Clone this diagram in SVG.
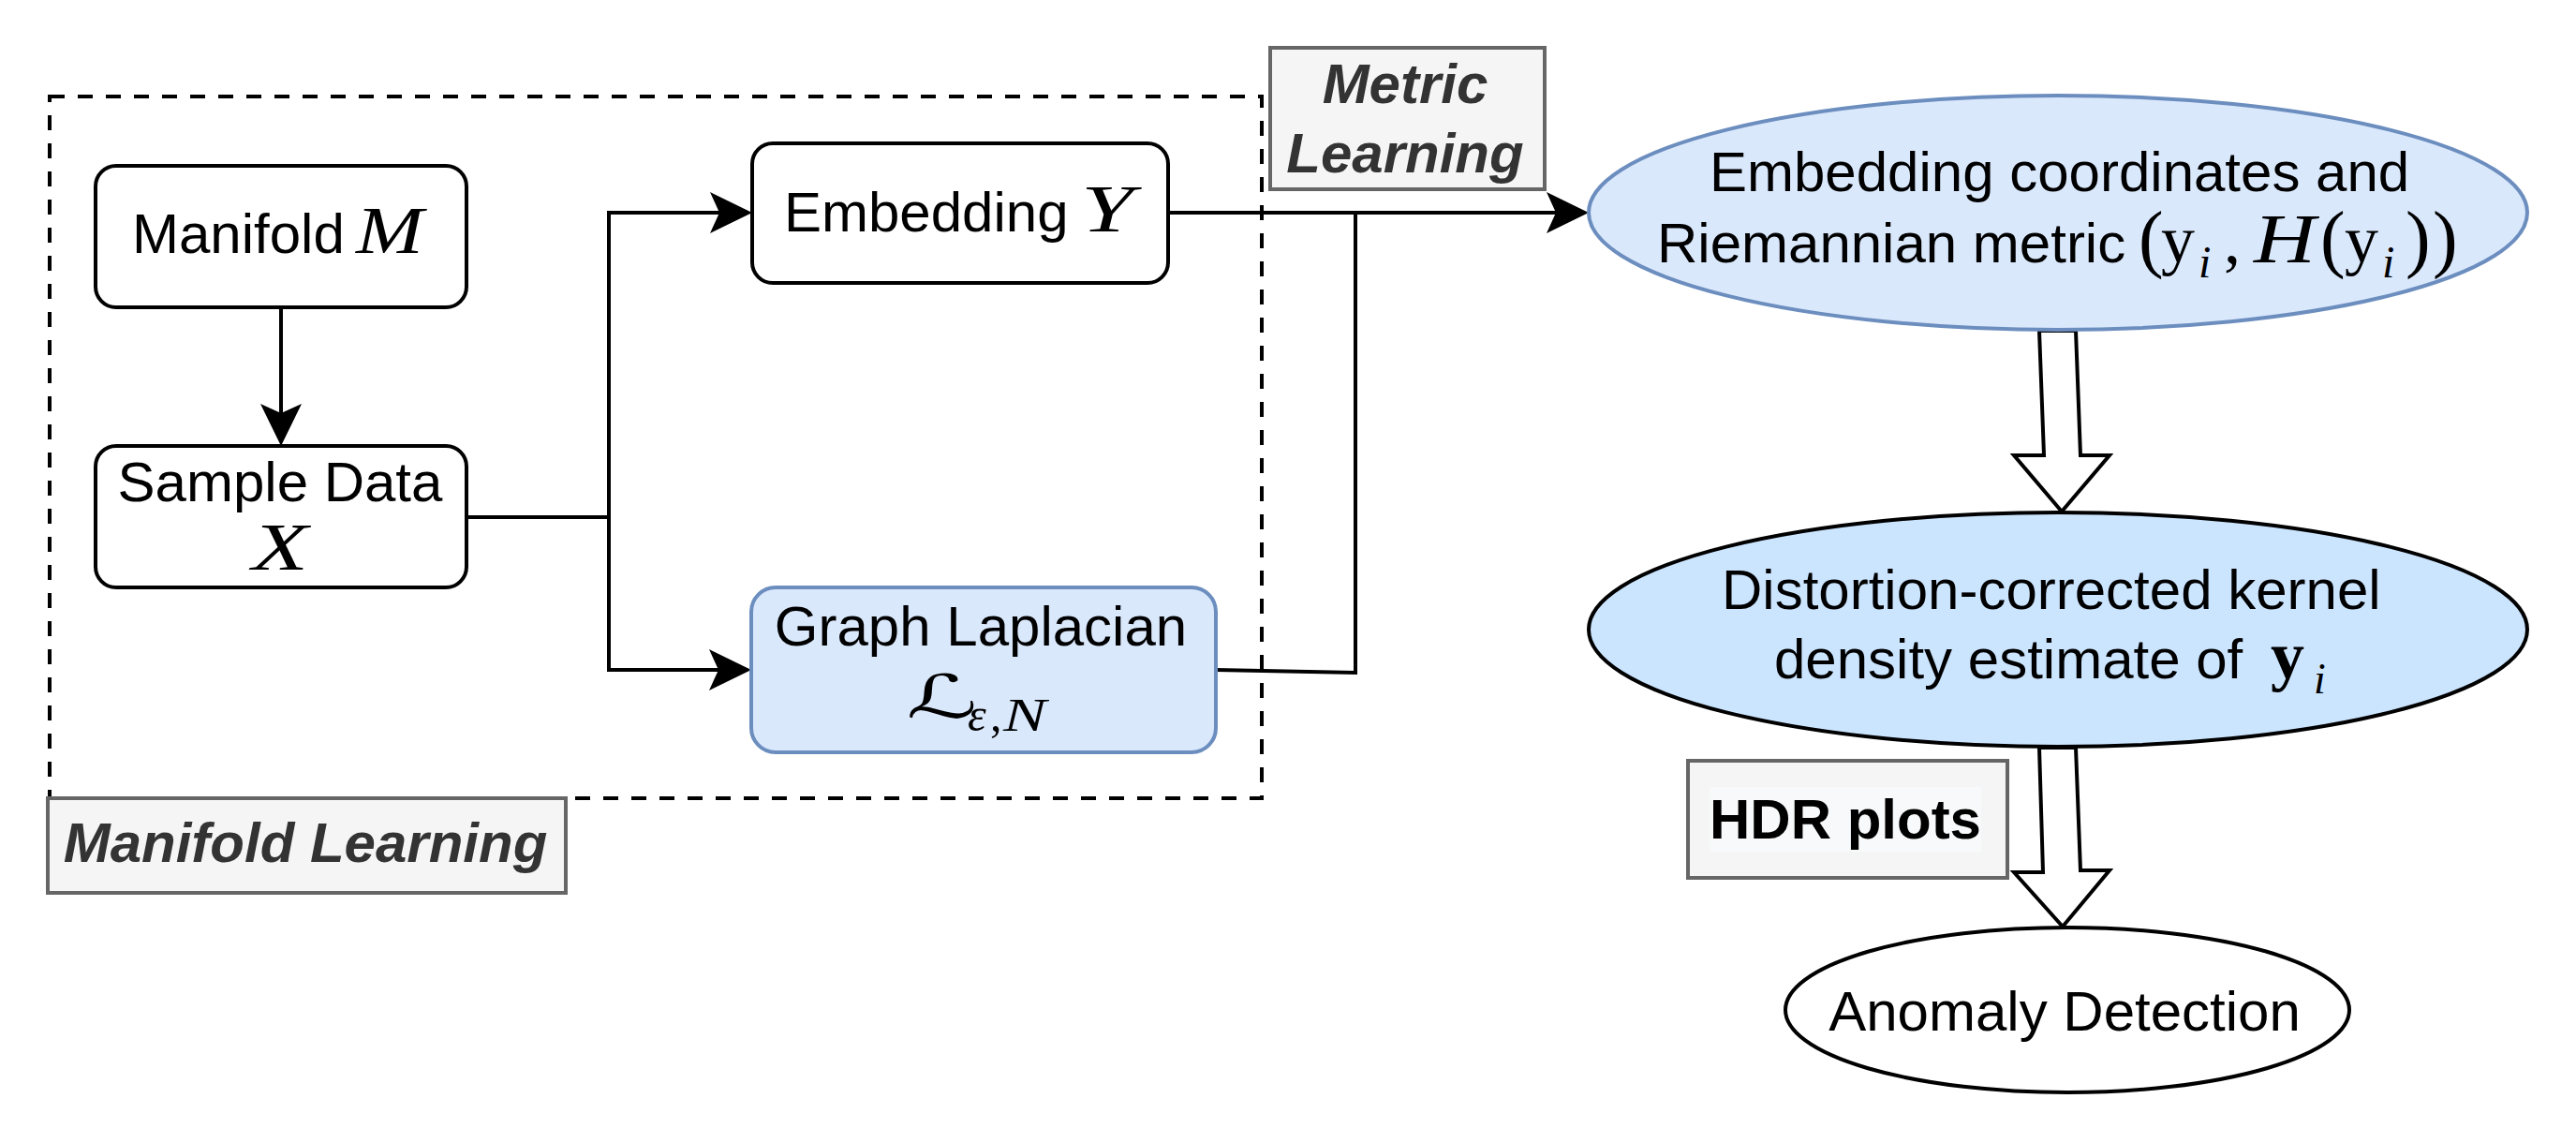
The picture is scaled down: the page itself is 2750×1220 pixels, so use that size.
<svg xmlns="http://www.w3.org/2000/svg" width="2750" height="1220" viewBox="0 0 2750 1220">
<style>
  .lbl { font-family: "Liberation Sans", Arial, Helvetica, sans-serif; font-size: 60px; fill: #000; }
  .tag { font-family: "Liberation Sans", Arial, Helvetica, sans-serif; font-size: 60px; font-weight: bold; font-style: italic; fill: #333333; }
  .hdr { font-family: "Liberation Sans", Arial, Helvetica, sans-serif; font-size: 60px; font-weight: bold; fill: #000; }
  .mi { font-family: "Liberation Serif", "DejaVu Serif", serif; font-style: italic; fill: #000; }
  .mr { font-family: "Liberation Serif", "DejaVu Serif", serif; fill: #000; }
  .box { fill: #ffffff; stroke: #000; stroke-width: 4; }
  .blue { fill: #dae8fc; stroke: #6c8ebf; stroke-width: 4; }
  .tagbox { fill: #f5f5f5; stroke: #666666; stroke-width: 4; }
  .conn { fill: none; stroke: #000; stroke-width: 4; }
  .hollow { fill: #ffffff; stroke: #000; stroke-width: 4; stroke-linejoin: miter; }
</style>
<defs>
  <marker id="arr" markerUnits="userSpaceOnUse" markerWidth="46" markerHeight="46" viewBox="0 0 46 46" refX="10" refY="23" orient="auto">
    <path d="M0,1 L45,23 L0,45 L10,23 Z" fill="#000"/>
  </marker>
</defs>

<!-- container -->
<g id="manifold-learning-container">
  <rect x="53" y="103" width="1294" height="749" fill="none" stroke="#000" stroke-width="4" stroke-dasharray="16 14"/>
</g>

<!-- connectors -->
<g id="connectors">
  <path class="conn" d="M300,328 V441" marker-end="url(#arr)"/>
  <path class="conn" d="M498,552 H650"/>
  <path class="conn" d="M650,227 V715"/>
  <path class="conn" d="M648,227 H768" marker-end="url(#arr)"/>
  <path class="conn" d="M648,715 H767" marker-end="url(#arr)"/>
  <path class="conn" d="M1247,227 H1661" marker-end="url(#arr)"/>
  <path class="conn" d="M1298,715 L1447,718 V227"/>
  <polygon class="hollow" points="2177,353 2216,353 2221,486 2252,486 2201,546 2150,486 2182,486"/>
  <polygon class="hollow" points="2177,798 2216,798 2221,929 2252,929 2202,989 2150,931 2181,931"/>
</g>

<g id="node-manifold">
  <rect class="box" x="102" y="177" width="396" height="151" rx="22" ry="22"/>
  <text class="lbl" x="141" y="270">Manifold</text>
  <text class="mi" x="380" y="270" font-size="72" textLength="72" lengthAdjust="spacingAndGlyphs">M</text>
</g>

<g id="node-sample">
  <rect class="box" x="102" y="476" width="396" height="151" rx="22" ry="22"/>
  <text class="lbl" x="299" y="535" text-anchor="middle">Sample Data</text>
  <text class="mi" x="299" y="608" font-size="72" text-anchor="middle" textLength="60" lengthAdjust="spacingAndGlyphs">X</text>
</g>

<g id="node-embedding">
  <rect class="box" x="803" y="153" width="444" height="149" rx="22" ry="22"/>
  <text class="lbl" x="837" y="247">Embedding</text>
  <text class="mi" x="1154" y="247" font-size="72" textLength="56" lengthAdjust="spacingAndGlyphs">Y</text>
</g>

<g id="node-laplacian">
  <rect class="blue" x="802" y="627" width="496" height="176" rx="26" ry="26"/>
  <text class="lbl" x="1047" y="689" text-anchor="middle">Graph Laplacian</text>
  <text x="968" y="766" font-family="'DejaVu Serif', 'DejaVu Sans', serif" font-style="italic" font-size="64" textLength="76" lengthAdjust="spacingAndGlyphs">ℒ</text>
  <text class="mi" x="1033" y="780" font-size="50">ε</text>
  <text class="mr" x="1057" y="780" font-size="50">,</text>
  <text class="mi" x="1071" y="780" font-size="50" textLength="46" lengthAdjust="spacingAndGlyphs">N</text>
</g>

<g id="label-metric-learning">
  <rect class="tagbox" x="1356" y="51" width="293" height="151"/>
  <text class="tag" x="1500" y="110" text-anchor="middle">Metric</text>
  <text class="tag" x="1500" y="184" text-anchor="middle">Learning</text>
</g>

<g id="label-manifold-learning">
  <rect class="tagbox" x="51" y="852" width="553" height="101"/>
  <text class="tag" x="326" y="920" text-anchor="middle">Manifold Learning</text>
</g>

<g id="node-riemannian">
  <ellipse class="blue" cx="2197" cy="227" rx="501" ry="125"/>
  <text class="lbl" x="1825" y="204">Embedding coordinates and</text>
  <text class="lbl" x="1769" y="280">Riemannian metric</text>
  <text class="mr" x="2283" y="281" font-size="80">(</text>
  <text class="mr" x="2307" y="280" font-size="72">y</text>
  <text class="mi" x="2347" y="296" font-size="48">i</text>
  <text class="mr" x="2374" y="280" font-size="72">,</text>
  <text class="mi" x="2406" y="280" font-size="74" textLength="66" lengthAdjust="spacingAndGlyphs">H</text>
  <text class="mr" x="2477" y="281" font-size="80">(</text>
  <text class="mr" x="2503" y="280" font-size="72">y</text>
  <text class="mi" x="2543" y="296" font-size="48">i</text>
  <text class="mr" x="2568" y="281" font-size="80">)</text>
  <text class="mr" x="2597" y="281" font-size="80">)</text>
</g>

<g id="node-kde">
  <ellipse cx="2197" cy="672" rx="501" ry="125" fill="#cce5ff" stroke="#000" stroke-width="4"/>
  <text class="lbl" x="1838" y="650">Distortion-corrected kernel</text>
  <text class="lbl" x="1894" y="724">density estimate of</text>
  <text class="mr" x="2424" y="724" font-size="72" font-weight="bold">y</text>
  <text class="mi" x="2470" y="740" font-size="46">i</text>
</g>

<g id="label-hdr">
  <rect class="tagbox" x="1802" y="812" width="341" height="125"/>
  <rect x="1825" y="840" width="290" height="69" fill="#f8f9fa"/>
  <text class="hdr" x="1970" y="895" text-anchor="middle">HDR plots</text>
</g>

<g id="node-anomaly">
  <ellipse cx="2207" cy="1078" rx="301" ry="88" fill="#ffffff" stroke="#000" stroke-width="4"/>
  <text class="lbl" x="2204" y="1100" text-anchor="middle">Anomaly Detection</text>
</g>
</svg>
